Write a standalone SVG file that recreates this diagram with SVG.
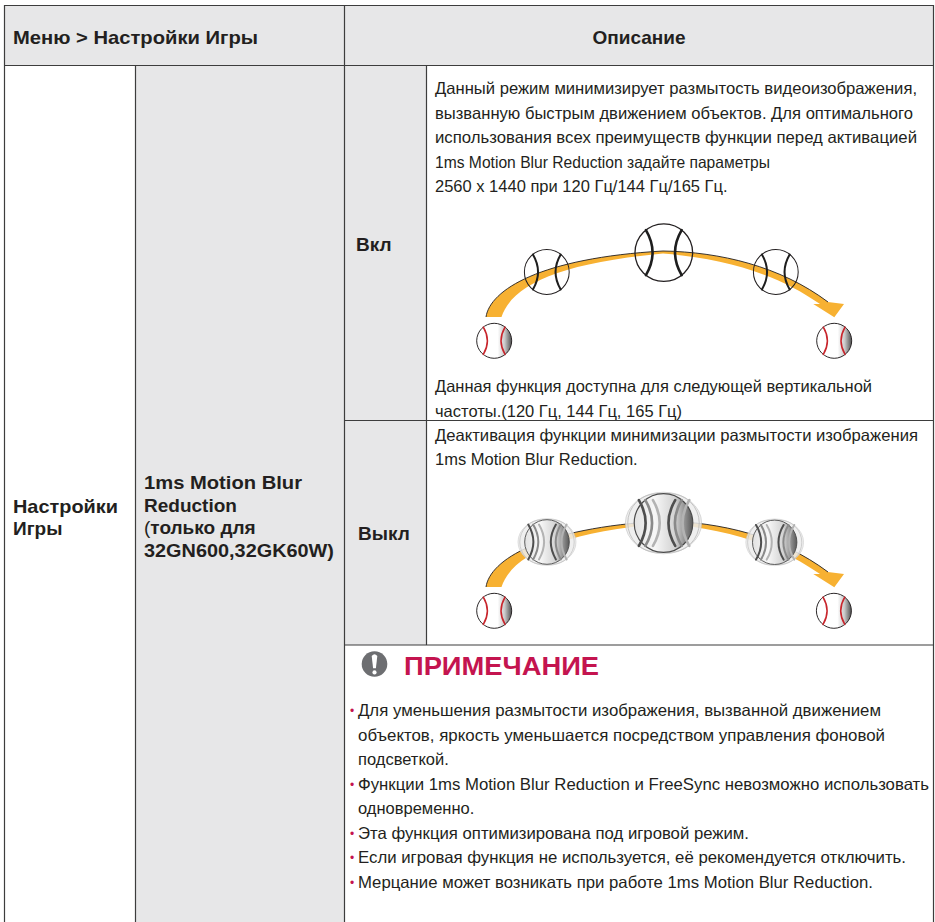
<svg xmlns="http://www.w3.org/2000/svg" width="935" height="922" viewBox="0 0 935 922">
<defs>
<style>
.b{font-family:"Liberation Sans",Arial,sans-serif;font-weight:bold;font-size:19px;fill:#231f20}
.t{font-family:"Liberation Sans",Arial,sans-serif;font-size:16.5px;fill:#231f20}
.bul{font-family:"Liberation Sans",Arial,sans-serif;font-size:12px;fill:#c4144f}
.grid{stroke:#3d3d3d;stroke-width:1.2;fill:none}
.cell{fill:#e7e7e8}
.band{fill:#f7b132}
.edge{fill:none;stroke:#231f20;stroke-width:0.9}
.seam{fill:none;stroke-width:0.09;stroke-linecap:round}
</style>
<linearGradient id="redGrad" x1="0" y1="0" x2="1" y2="0">
<stop offset="0" stop-color="#ffffff"/>
<stop offset="0.6" stop-color="#ffffff"/>
<stop offset="0.8" stop-color="#c9c9c9"/>
<stop offset="1" stop-color="#505050"/>
</linearGradient>
<linearGradient id="blurGrad" x1="0" y1="0" x2="1" y2="0">
<stop offset="0" stop-color="#e2e2e2"/>
<stop offset="0.35" stop-color="#f7f7f7"/>
<stop offset="0.7" stop-color="#d2d2d2"/>
<stop offset="1" stop-color="#5a5a5a"/>
</linearGradient>
<path id="seams" d="M-0.62,-0.78 Q-0.16,0 -0.62,0.78 M0.62,-0.78 Q0.16,0 0.62,0.78"/>
<g id="redBall">
<circle r="1" fill="url(#redGrad)" stroke="#231f20" stroke-width="0.055"/>
<use href="#seams" class="seam" stroke="#c8252c" stroke-width="0.1"/>
</g>
<g id="clearBall">
<circle r="1" fill="none" stroke="#231f20" stroke-width="0.045"/>
<use href="#seams" class="seam" stroke="#1e1e1e"/>
</g>
<g id="blurBall">
<ellipse rx="1.3" ry="1.05" fill="#ededed" stroke="#c9c9c9" stroke-width="0.03" opacity="0.85"/>
<circle cx="-0.22" r="1" fill="none" stroke="#bdbdbd" stroke-width="0.03"/>
<circle cx="0.22" r="1" fill="none" stroke="#bdbdbd" stroke-width="0.03"/>
<circle r="1" fill="url(#blurGrad)" stroke="#4a4a4a" stroke-width="0.04"/>
<use href="#seams" class="seam" stroke="#b3b3b3" transform="translate(0.26,0)"/>
<use href="#seams" class="seam" stroke="#8a8a8a"/>
<use href="#seams" class="seam" stroke="#4e4e4e" transform="translate(-0.22,0)"/>
</g>
<g id="arcArrow">
<path class="band" d="M486,317 C490,290 540,258 663,251 L663,253.5 C560,263 512,285 501.5,317 Z"/>
<path class="band" d="M663,251 C720,252 780,266 828,302 L844,304 L834.3,317.3 L813.3,304 L820,304 C780,276 730,259 663,253.5 Z"/>
<path class="edge" d="M486,317 C490,290 540,258 663,251 C720,252 780,266 828,302"/>
</g>
</defs>

<g id="table-fills">
<rect class="cell" x="4.5" y="5.5" width="929" height="60"/>
<rect class="cell" x="135.5" y="65.5" width="209" height="856.5"/>
<rect class="cell" x="344.5" y="65.5" width="82" height="579.5"/>
</g>

<g id="grid">
<line class="grid" x1="4.5" y1="5.5" x2="933.5" y2="5.5"/>
<line class="grid" x1="4.5" y1="5" x2="4.5" y2="922"/>
<line class="grid" x1="933.5" y1="5" x2="933.5" y2="922"/>
<line class="grid" x1="4.5" y1="65.5" x2="933.5" y2="65.5"/>
<line class="grid" x1="344.5" y1="5.5" x2="344.5" y2="922"/>
<line class="grid" x1="135.5" y1="65.5" x2="135.5" y2="922"/>
<line class="grid" x1="426.5" y1="65.5" x2="426.5" y2="645"/>
<line class="grid" x1="344.5" y1="420.5" x2="933.5" y2="420.5"/>
<line class="grid" x1="344.5" y1="645" x2="933.5" y2="645"/>
</g>

<g id="header">
<text class="b" x="13" y="43.5" textLength="245" lengthAdjust="spacingAndGlyphs">Меню &gt; Настройки Игры</text>
<text class="b" x="639" y="43.5" text-anchor="middle">Описание</text>
</g>

<g id="col-menu">
<text class="b" x="13" y="512.5" textLength="105" lengthAdjust="spacingAndGlyphs">Настройки</text>
<text class="b" x="13" y="535">Игры</text>
</g>

<g id="col-option">
<text class="b" x="144" y="489" textLength="158" lengthAdjust="spacingAndGlyphs">1ms Motion Blur</text>
<text class="b" x="144" y="511.5">Reduction</text>
<text class="b" x="144" y="534"><tspan font-weight="normal">(</tspan>только для</text>
<text class="b" x="144" y="556.5" textLength="190" lengthAdjust="spacingAndGlyphs">32GN600,32GK60W)</text>
</g>

<g id="row-on">
<text class="b" x="356" y="251">Вкл</text>
<text class="t" x="435" y="94" textLength="482" lengthAdjust="spacingAndGlyphs">Данный режим минимизирует размытость видеоизображения,</text>
<text class="t" x="435" y="118.5" textLength="478" lengthAdjust="spacingAndGlyphs">вызванную быстрым движением объектов. Для оптимального</text>
<text class="t" x="435" y="143" textLength="482" lengthAdjust="spacingAndGlyphs">использования всех преимуществ функции перед активацией</text>
<text class="t" x="435" y="167.5" textLength="335" lengthAdjust="spacingAndGlyphs">1ms Motion Blur Reduction задайте параметры</text>
<text class="t" x="435" y="192">2560 x 1440 при 120 Гц/144 Гц/165 Гц.</text>
<g id="illustration-on">
<use href="#arcArrow"/>
<use href="#redBall" transform="translate(494.2,340.8) scale(17.5)"/>
<use href="#redBall" transform="translate(834.2,340.8) scale(17.5)"/>
<use href="#clearBall" transform="translate(546.8,272) scale(22.4)"/>
<use href="#clearBall" transform="translate(663.8,252.6) scale(28.8)"/>
<use href="#clearBall" transform="translate(775.8,272) scale(22.4)"/>
</g>
<text class="t" x="435" y="392" textLength="437" lengthAdjust="spacingAndGlyphs">Данная функция доступна для следующей вертикальной</text>
<text class="t" x="435" y="416.5">частоты.(120 Гц, 144 Гц, 165 Гц)</text>
</g>

<g id="row-off">
<text class="b" x="358" y="540">Выкл</text>
<text class="t" x="435" y="440.5" textLength="483" lengthAdjust="spacingAndGlyphs">Деактивация функции минимизации размытости изображения</text>
<text class="t" x="435" y="465">1ms Motion Blur Reduction.</text>
<g id="illustration-off">
<use href="#arcArrow" transform="translate(0,270)"/>
<use href="#redBall" transform="translate(494.2,610.8) scale(17.5)"/>
<use href="#redBall" transform="translate(833.9,610.8) scale(17.5)"/>
<use href="#blurBall" transform="translate(547,542) scale(22.3)"/>
<use href="#blurBall" transform="translate(663.5,523) scale(29.3)"/>
<use href="#blurBall" transform="translate(774.7,542.3) scale(22.2)"/>
</g>
</g>

<g id="note">
<circle cx="374.5" cy="664" r="12.8" fill="#6d6e71"/>
<path d="M371.7,656 Q374.5,652.3 377.3,656 L375.9,668.3 L373.1,668.3 Z" fill="#ffffff"/>
<circle cx="374.5" cy="672.4" r="2.1" fill="#ffffff"/>
<text x="404" y="675" font-family="Liberation Sans, Arial, sans-serif" font-weight="bold" font-size="25" fill="#c4144f" textLength="195" lengthAdjust="spacingAndGlyphs">ПРИМЕЧАНИЕ</text>
<text class="bul" x="350" y="715">•</text>
<text class="t" x="358" y="716" textLength="523" lengthAdjust="spacingAndGlyphs">Для уменьшения размытости изображения, вызванной движением</text>
<text class="t" x="358" y="740.5" textLength="527" lengthAdjust="spacingAndGlyphs">объектов, яркость уменьшается посредством управления фоновой</text>
<text class="t" x="358" y="765">подсветкой.</text>
<text class="bul" x="350" y="788.5">•</text>
<text class="t" x="358" y="789.5" textLength="571" lengthAdjust="spacingAndGlyphs">Функции 1ms Motion Blur Reduction и FreeSync невозможно использовать</text>
<text class="t" x="358" y="814">одновременно.</text>
<text class="bul" x="350" y="837.5">•</text>
<text class="t" x="358" y="838.5" textLength="391" lengthAdjust="spacingAndGlyphs">Эта функция оптимизирована под игровой режим.</text>
<text class="bul" x="350" y="862">•</text>
<text class="t" x="358" y="863" textLength="548" lengthAdjust="spacingAndGlyphs">Если игровая функция не используется, её рекомендуется отключить.</text>
<text class="bul" x="350" y="886.5">•</text>
<text class="t" x="358" y="887.5" textLength="515" lengthAdjust="spacingAndGlyphs">Мерцание может возникать при работе 1ms Motion Blur Reduction.</text>
</g>
</svg>
